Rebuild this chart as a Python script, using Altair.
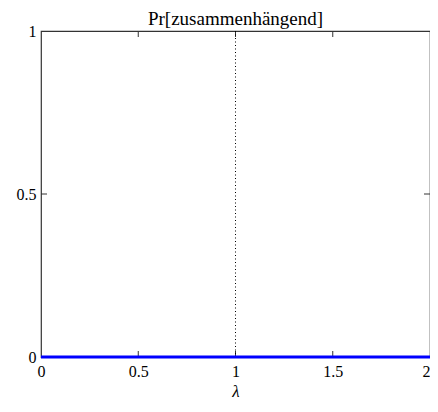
import altair as alt
import pandas as pd

# data
lam = [0, 0.5, 1, 1.5, 2]
prob = [0, 0, 0, 0, 0]
x_ticks = [0, 0.5, 1, 1.5, 2]
y_ticks = [0, 0.5, 1]
x_inner_ticks = [0.5, 1, 1.5]
y_inner_ticks = [0.5]
threshold = [1]
title_text = ["Pr[zusammenhängend]"]

W, H = 389, 326
FONT = "Liberation Serif"
FRAME = "#333333"
TL = 6

df = pd.DataFrame({"lam": lam, "p": prob})
thr = pd.DataFrame({"lam": threshold})
xt = pd.DataFrame({"lam": x_inner_ticks})
yt = pd.DataFrame({"p": y_inner_ticks})
tt = pd.DataFrame({"t": title_text})

xs = alt.Scale(domain=[0, 2], nice=False, zero=False)
ys = alt.Scale(domain=[0, 1], nice=False)

xaxis = alt.Axis(values=x_ticks, format="~g", ticks=False, domain=False, grid=False,
                 labelFont=FONT, labelFontSize=16, labelColor="black", labelPadding=6,
                 labelFlush=False,
                 labelAlign={"condition": {"test": "datum.value >= 2", "value": "right"},
                             "value": "center"},
                 title="λ", titleFont=FONT, titleFontSize=17, titleFontStyle="italic",
                 titleFontWeight="normal", titleColor="black", titlePadding=4)
yaxis = alt.Axis(values=y_ticks, format="~g", ticks=False, domain=False, grid=False,
                 labelFont=FONT, labelFontSize=16, labelColor="black", labelPadding=5,
                 labelBaseline="middle", labelFlush=False, title=None)


def X(field="lam:Q"):
    return alt.X(field, scale=xs, axis=xaxis)


def Y(field="p:Q"):
    return alt.Y(field, scale=ys, axis=yaxis)


line = alt.Chart(df).mark_line(color="#0000ff", strokeWidth=3, clip=False).encode(
    x=X(), y=Y(),
)

vline = alt.Chart(thr).mark_rule(color="black", strokeWidth=1, strokeDash=[1, 2.5]).encode(
    x=X(), y=alt.value(0), y2=alt.value(H),
)

xb = alt.Chart(xt).mark_rule(color=FRAME, strokeWidth=1).encode(
    x=X(), y=alt.value(H), y2=alt.value(H - TL))
xtop = alt.Chart(xt).mark_rule(color=FRAME, strokeWidth=1).encode(
    x=X(), y=alt.value(0), y2=alt.value(TL))
yl = alt.Chart(yt).mark_rule(color=FRAME, strokeWidth=1).encode(
    y=Y(), x=alt.value(0), x2=alt.value(TL))
yr = alt.Chart(yt).mark_rule(color=FRAME, strokeWidth=1).encode(
    y=Y(), x=alt.value(W - TL), x2=alt.value(W))

title = alt.Chart(tt).mark_text(font=FONT, fontSize=19, color="black", align="center",
                                baseline="alphabetic").encode(
    text="t:N", x=alt.value(W / 2), y=alt.value(-6))

chart = alt.layer(xb, xtop, yl, yr, vline, line, title).properties(
    width=W, height=H,
    autosize=alt.AutoSizeParams(type="none"),
    padding={"left": 33, "top": 23, "right": 0, "bottom": 47},
).configure_view(stroke=FRAME, strokeWidth=1.2)

chart.save("out.html", embed_options={"renderer": "svg", "actions": False})
